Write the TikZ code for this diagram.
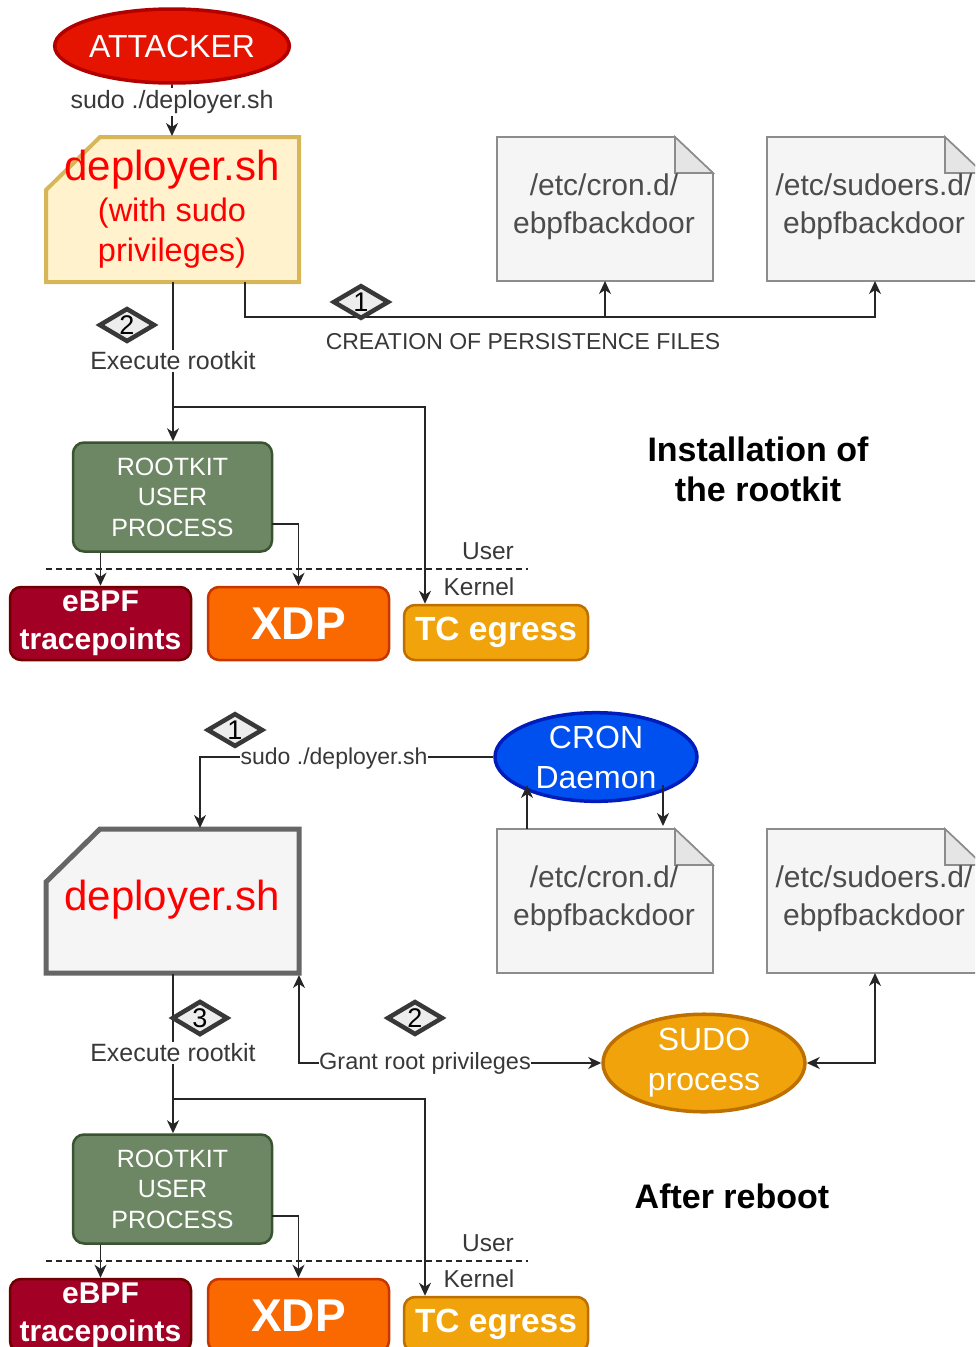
\documentclass[tikz,border=0pt]{standalone}
\usepackage{fontspec}
\setmainfont{Liberation Sans}
\usetikzlibrary{arrows.meta,shapes.geometric,calc}
\newcommand{\fs}[1]{\fontsize{#1}{#1}\selectfont}
\tikzset{
  tip/.style={-{Stealth[length=13pt,width=12pt,inset=4pt]}},
  biarrow/.style={{Stealth[length=13pt,width=12pt,inset=4pt]}-{Stealth[length=13pt,width=12pt,inset=4pt]}},
  conn/.style={draw=black!85,line width=1.6pt},
  txt/.style={inner sep=0pt,align=center,text=black!78},
  lbl/.style={inner xsep=0pt,inner ysep=2pt,fill=white,text=black!78,font=\fs{25}},
  ell/.style={ellipse,minimum width=202pt,minimum height=74pt,inner sep=0pt,line width=3.5pt,text=white,align=center,font=\fs{32}},
  rbox/.style={draw,rounded corners=11pt,line width=2.5pt,inner sep=0pt,text=white,align=center},
  badge/.style={diamond,aspect=1,draw=black!78,fill=black!7,line width=4.5pt,minimum width=56pt,inner sep=0pt,text=black,font=\fs{27}},
  anchorbox/.style={inner sep=0pt,outer sep=0pt},
  notefile/.style={draw=black!45,fill=black!4,line width=1.6pt,line join=miter},
  foldpart/.style={draw=black!45,fill=black!10,line width=1.6pt},
  filetext/.style={txt,font=\fs{30},text=black!70},
  head/.style={inner sep=0pt,align=center,text=black,font=\bfseries\fs{34}}
}
\newcommand{\filenote}[3]{% name, left x, top y ; text
  \draw[notefile] (#2,#3) -- ++(178,0) -- ++(38,36) -- ++(0,108) -- ++(-216,0) -- cycle;
  \draw[foldpart] (#2+178,#3) -- ++(38,36) -- ++(-38,0) -- cycle;
  \node[anchorbox,minimum width=216pt,minimum height=144pt] (#1) at (#2+108,#3+72) {};
}
\newcommand{\rootblock}[2]{% suffix, offset
  \node[rbox,draw=green!20!black!75,fill={rgb,255:red,109;green,135;blue,100},minimum width=199pt,minimum height=109pt,font=\fs{25},align=center,draw={rgb,255:red,58;green,84;blue,49}] (root#1) at (172.5,497+#2) {ROOTKIT\\[5.5pt]USER\\[5.5pt]PROCESS};
  \node[rbox,fill={rgb,255:red,162;green,0;blue,37},draw={rgb,255:red,111;green,0;blue,0},minimum width=181pt,minimum height=73pt,font=\bfseries\fs{30}] (ebpf#1) at (100.5,623.5+#2) {eBPF\\[8pt]tracepoints};
  \node[rbox,fill={rgb,255:red,250;green,104;blue,0},draw={rgb,255:red,199;green,53;blue,0},minimum width=181pt,minimum height=73pt,font=\bfseries\fs{46}] (xdp#1) at (298.5,623.5+#2) {XDP};
  \node[rbox,fill={rgb,255:red,240;green,163;blue,10},draw={rgb,255:red,189;green,112;blue,0},minimum width=184pt,minimum height=55pt,font=\bfseries\fs{33.5}] (tc#1) at (496,632.5+#2) {TC egress};
  \coordinate (dl#1) at (46,569+#2);
  \coordinate (dr#1) at (528,569+#2);
  \draw[line width=1.6pt,dashed,dash pattern=on 6pt off 4pt,black!85] (dl#1) -- (dr#1);
  \node[txt,font=\fs{24.5}] (user#1) at (488,551+#2) {User};
  \node[txt,font=\fs{24.5}] (kern#1) at (479,587+#2) {Kernel};
  \draw[conn,tip] (root#1.north -| ebpf#1.north) ++(0,0) (root#1.south -| ebpf#1.north) -- (ebpf#1.north);
  \coordinate (rs#1) at (272,524+#2);
  \draw[conn,tip] (rs#1) -| (xdp#1.north);
}
\begin{document}
\begin{tikzpicture}[x=1pt,y=-1pt]
\useasboundingbox (0,0) rectangle (975,1347);
\clip (0,0) rectangle (975,1347);

% ---------- upper half ----------
\node[ell,draw={rgb,255:red,178;green,0;blue,0},fill={rgb,255:red,229;green,20;blue,0}] (attacker) at (172,46) {ATTACKER};

\draw[line width=4pt,draw={rgb,255:red,214;green,182;blue,86},fill={rgb,255:red,255;green,242;blue,204},line join=miter]
  (100,137) -- (299,137) -- (299,282) -- (46,282) -- (46,190) -- cycle;
\node[anchorbox,minimum width=254pt,minimum height=146pt] (dep1) at (173,209) {};
\node[txt,font=\fs{42},text=red] (dep1a) at (172,170) {deployer.sh};
\node[txt,font=\fs{32.5},text=red] (dep1b) at (172,213) {(with sudo};
\node[txt,font=\fs{32.5},text=red] (dep1c) at (172,253) {privileges)};

\filenote{cronA}{497}{137}
\filenote{sudoA}{767}{137}
\node[filetext] (cronAt) at (604,207) {/etc/cron.d/\\[8pt]ebpfbackdoor};
\node[filetext] (sudoAt) at (874,207) {/etc/sudoers.d/\\[8pt]ebpfbackdoor};

\rootblock{A}{0}

\node[lbl] (sudoLbl) at (172,102) {sudo ./deployer.sh};
\draw[conn] (attacker.south) -- (sudoLbl.north);
\draw[conn,tip] (sudoLbl.south) -- (dep1.north -| attacker.south);

\node[lbl] (exA) at (173,361) {Execute rootkit};
\coordinate (forkA) at (173,407);
\draw[conn] (dep1.south) -- (exA.north);
\draw[conn,tip] (exA.south) -- (forkA) -- (forkA |- rootA.north);
\draw[conn,tip] (forkA) -| (tcA.north -| 425,0);

\coordinate (persA) at (245,282);
\coordinate (persB) at (245,317);
\draw[conn,tip] (persA) -- (persB) -| (sudoA.south);
\draw[conn,tip] (persB -| cronA.south) -- (cronA.south);
\node[txt,font=\fs{23},text=black!78,fill=white,inner ysep=1pt] (persL) at (523,342) {CREATION OF PERSISTENCE FILES};

\node[badge] (b1A) at (361,302) {1};
\node[badge] (b2A) at (127,325) {2};

\node[head] (title1) at (758,469) {Installation of\\[6pt]the rootkit};

% ---------- lower half ----------
\draw[line width=5pt,draw=black!60,fill=black!4,line join=miter]
  (100,829) -- (299,829) -- (299,973) -- (46,973) -- (46,882) -- cycle;
\node[anchorbox,minimum width=254pt,minimum height=146pt] (dep2) at (173,901) {};
\node[txt,font=\fs{42},text=red] (dep2a) at (172,900) {deployer.sh};

\filenote{cronB}{497}{829}
\filenote{sudoB}{767}{829}
\node[filetext] (cronBt) at (604,899) {/etc/cron.d/\\[8pt]ebpfbackdoor};
\node[filetext] (sudoBt) at (874,899) {/etc/sudoers.d/\\[8pt]ebpfbackdoor};

\node[ell,draw={rgb,255:red,0;green,29;blue,188},fill={rgb,255:red,0;green,80;blue,239}] (cron) at (596,757) {CRON\\[8pt]Daemon};
\node[ell,draw={rgb,255:red,189;green,112;blue,0},fill={rgb,255:red,240;green,163;blue,10}] (sudoP) at (704,1063) {SUDO\\[8pt]process};

\rootblock{B}{692}

\node[lbl,font=\fs{23}] (cronL) at (334,759) {sudo ./deployer.sh};
\coordinate (cronTurn) at (200,757);
\draw[conn] (cron.west) -- (cronL.east |- cron.west);
\draw[conn,tip] (cronL.west |- cron.west) -- (cronTurn) -- (cronTurn |- dep2.north);
\coordinate (upA) at (527,829);
\coordinate (upB) at (527,785);
\coordinate (dnA) at (663,785);
\coordinate (dnB) at (663,826);
\draw[conn,tip] (upA) -- (upB);
\draw[conn,tip] (dnA) -- (dnB);

\node[lbl] (exB) at (173,1053) {Execute rootkit};
\coordinate (forkB) at (173,1099);
\draw[conn] (dep2.south) -- (exB.north);
\draw[conn,tip] (exB.south) -- (forkB) -- (forkB |- rootB.north);
\draw[conn,tip] (forkB) -| (tcB.north -| 425,0);

\node[lbl,font=\fs{23.5}] (grant) at (425,1063) {Grant root privileges};
\coordinate (grantUp) at (299,975);
\draw[conn,tip] (grant.west) -| (grantUp);
\draw[conn,tip] (grant.east) -- (sudoP.west);
\draw[conn,biarrow] (sudoP.east) -| (sudoB.south);

\node[badge] (b1B) at (235,730) {1};
\node[badge] (b2B) at (415,1018) {2};
\node[badge] (b3B) at (200,1018) {3};

\node[head] (title2) at (732,1196) {After reboot};
\end{tikzpicture}
\end{document}
